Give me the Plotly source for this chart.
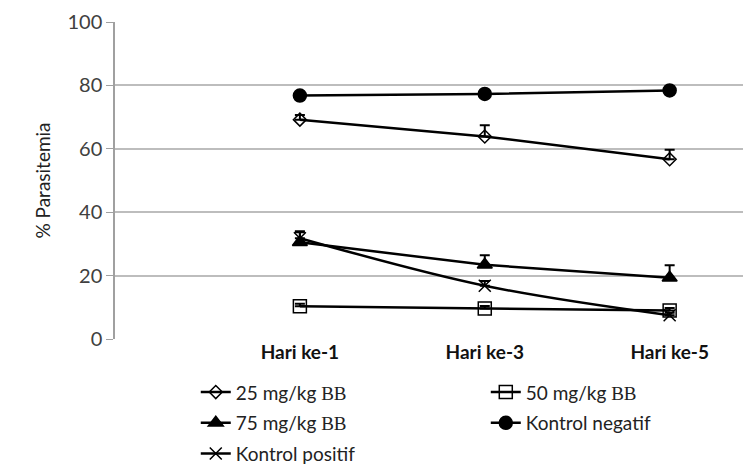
import plotly.graph_objects as go

categories = ["Hari ke-1", "Hari ke-3", "Hari ke-5"]
x_pos = [1, 2, 3]

series_names = ["25 mg/kg BB", "50 mg/kg BB", "75 mg/kg BB", "Kontrol negatif", "Kontrol positif"]
v25 = [69.2, 63.9, 56.7]
e25 = [1.5, 3.5, 3.0]
v50 = [10.3, 9.6, 9.0]
e50 = [0.8, 0.8, 0.8]
v75 = [30.5, 23.4, 19.3]
e75 = [3.2, 3.0, 4.0]
vneg = [76.8, 77.3, 78.4]
eneg = [0.5, 0.5, 0.5]
vpos = [31.8, 16.8, 7.5]
epos = [2.2, 1.5, 0.8]

yticks = [0, 20, 40, 60, 80, 100]

def lbl(name):
    if name.endswith(" BB"):
        return name[:-3] + ' <span style="font-family:\'Liberation Serif\', serif">BB</span>'
    return name

# name, values, errors, symbol, size, line shape, legend column
specs = [
    (series_names[0], v25, e25, "diamond-open", 10, "linear", "legend"),
    (series_names[1], v50, e50, "square-open", 13, "linear", "legend2"),
    (series_names[2], v75, e75, "triangle-up", 13, "linear", "legend"),
    (series_names[3], vneg, eneg, "circle", 13, "linear", "legend2"),
    (series_names[4], vpos, epos, "x-thin-open", 12, "spline", "legend"),
]

fig = go.Figure()
for name, vals, errs, sym, sz, shape, leg in specs:
    fig.add_trace(go.Scatter(
        x=x_pos, y=vals, name=lbl(name), mode="lines+markers",
        legend=leg, legendgroup=name,
        line=dict(color="black", width=2.5, shape=shape),
        marker=dict(symbol=sym, size=sz, color="black",
                    line=dict(color="black", width=1.5)),
        error_y=dict(type="data", array=errs, arrayminus=[0] * len(errs),
                     symmetric=False, color="black", thickness=2, width=5),
    ))

leg_common = dict(orientation="v", yanchor="top", y=-0.108, xanchor="left",
                  font=dict(size=19, color="#222"), itemwidth=30,
                  bgcolor="rgba(0,0,0,0)", tracegroupgap=3)

# page body has an 8px default margin, so the figure is sized to the visible area
fig.update_layout(
    width=743, height=456,
    margin=dict(l=107, r=0, t=14, b=125, autoexpand=False),
    paper_bgcolor="white", plot_bgcolor="white",
    font=dict(family="Lato", size=15, color="#222"),
    showlegend=True,
    legend=dict(x=0.127, **leg_common),
    legend2=dict(x=0.583, **leg_common),
    xaxis=dict(range=[0, 3.44], tickvals=x_pos, ticktext=categories,
               tickfont=dict(size=19, color="#111", family="Lato", weight="bold"),
               showgrid=False, zeroline=False, showline=False, ticks="",
               automargin=False),
    yaxis=dict(range=[0, 100], tickvals=yticks, showgrid=True, gridcolor="#bdbdbd",
               gridwidth=1.5, zeroline=False, showline=True, linecolor="#a0a0a0",
               linewidth=1.5, ticks="outside", ticklen=7, tickcolor="#a0a0a0",
               tickfont=dict(size=20, color="#404040"), automargin=False,
               ticklabeloverflow="allow",
               title=dict(text="% Parasitemia", font=dict(size=19, color="#222"), standoff=12)),
)

fig.write_html("out.html")
